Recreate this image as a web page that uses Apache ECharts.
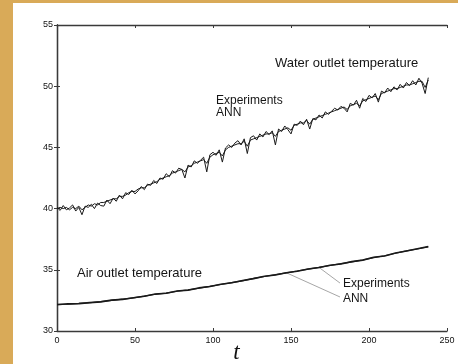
<!DOCTYPE html>
<html>
<head>
<meta charset="utf-8">
<script src="https://cdn.jsdelivr.net/npm/echarts@6/dist/echarts.min.js"></script>
<style>
  html, body { margin: 0; padding: 0; background: #ffffff; }
  #chart { width: 473px; height: 364px; }
</style>
</head>
<body>
<div id="chart"></div>
<script>
// Time axis (t) sampling for the two curve families
const waterT = [];
for (let i = 0; i < 120; i++) waterT.push(i * 2);
const airT = [];
for (let i = 0; i < 35; i++) airT.push(i * 7);

// Water outlet temperature — measured
const waterExp = [
  40.1, 39.85, 40.25, 39.9, 40.05, 40.3, 39.8, 40.1, 39.5, 40.2,
  40.1, 40.35, 40.0, 40.45, 40.25, 40.2, 40.7, 40.4, 40.85, 40.6,
  41.1, 40.8, 41.3, 41.15, 41.5, 41.2, 41.45, 41.8, 41.55, 42.0,
  41.9, 42.3, 42.05, 42.5, 42.4, 42.85, 42.6, 43.1, 42.9, 43.3,
  43.2, 42.5, 43.55, 43.4, 43.9, 43.7, 43.95, 44.2, 43.0, 44.4,
  44.6, 44.35, 44.8, 43.8, 44.95, 45.2, 45.0, 45.35, 45.55, 45.2,
  45.7, 44.5, 45.8, 45.95, 45.6, 46.1, 45.85, 46.3, 46.05, 46.35,
  45.2, 46.5, 46.3, 46.75, 46.45, 46.1, 46.9, 46.8, 47.15, 46.85,
  47.3, 46.5, 47.35, 47.25, 47.65, 47.4, 47.9, 47.7, 47.95, 48.2,
  48.05, 48.35, 48.2, 47.9, 48.6, 48.45, 48.85, 48.2, 49.0, 48.75,
  49.25, 49.05, 49.4, 48.7, 49.6, 49.45, 49.85, 49.55, 49.95, 49.7,
  50.15, 49.85, 50.3, 50.05, 50.45, 50.1, 50.65, 50.25, 49.4, 50.7
];
// Water outlet temperature — network prediction
const waterAnn = [
  40.0, 40.1, 40.0, 40.1, 39.9, 40.1, 40.0, 40.2, 39.9, 40.1,
  40.3, 40.2, 40.4, 40.3, 40.5, 40.5, 40.6, 40.7, 40.8, 40.8,
  41.0, 41.0, 41.1, 41.3, 41.4, 41.4, 41.6, 41.7, 41.7, 41.9,
  42.0, 42.1, 42.2, 42.4, 42.5, 42.6, 42.7, 42.9, 43.0, 43.1,
  43.2, 43.0, 43.4, 43.5, 43.7, 43.8, 43.9, 44.0, 43.7, 44.2,
  44.4, 44.5, 44.6, 44.3, 44.8, 45.0, 45.1, 45.2, 45.3, 45.3,
  45.5, 45.1, 45.6, 45.7, 45.8, 45.9, 46.0, 46.1, 46.1, 46.2,
  45.9, 46.3, 46.4, 46.5, 46.6, 46.4, 46.8, 46.9, 47.0, 47.0,
  47.2, 46.9, 47.3, 47.4, 47.5, 47.6, 47.7, 47.8, 47.9, 48.0,
  48.1, 48.2, 48.3, 48.1, 48.4, 48.5, 48.6, 48.4, 48.8, 48.9,
  49.0, 49.1, 49.2, 48.9, 49.4, 49.5, 49.6, 49.7, 49.8, 49.8,
  49.9, 50.0, 50.1, 50.1, 50.2, 50.3, 50.4, 50.4, 49.9, 50.5
];
// Air outlet temperature — measured
const airExp = [
  32.15, 32.22, 32.24, 32.32, 32.38, 32.52, 32.58, 32.72, 32.84, 33.02,
  33.08, 33.27, 33.34, 33.52, 33.64, 33.82, 33.94, 34.12, 34.28, 34.47,
  34.58, 34.76, 34.88, 35.07, 35.19, 35.37, 35.48, 35.67, 35.79, 36.02,
  36.13, 36.37, 36.53, 36.72, 36.90
];
// Air outlet temperature — network prediction
const airAnn = [
  32.17, 32.20, 32.25, 32.31, 32.40, 32.50, 32.60, 32.70, 32.85, 33.00,
  33.10, 33.25, 33.35, 33.50, 33.65, 33.80, 33.95, 34.10, 34.30, 34.45,
  34.60, 34.75, 34.90, 35.05, 35.20, 35.35, 35.50, 35.65, 35.80, 36.00,
  36.15, 36.35, 36.55, 36.70, 36.88
];

const xTicks = { min: 0, max: 250, step: 50 };
const yTicks = { min: 30, max: 55, step: 5 };

const pairs = (xs, ys) => xs.map((x, i) => [x, ys[i]]);

const font = '"Liberation Sans", Arial, Helvetica, sans-serif';
const axisColor = '#3a3a3a';

const chart = echarts.init(document.getElementById('chart'), null, { renderer: 'canvas' });

const frameAxis = (extra) => Object.assign({
  type: 'value',
  min: xTicks.min, max: xTicks.max, interval: xTicks.step,
  axisLine: { show: true, lineStyle: { color: axisColor, width: 1.3 } },
  axisTick: { show: true, inside: true, length: 3, lineStyle: { color: axisColor, width: 1 } },
  splitLine: { show: false },
  axisLabel: { show: false }
}, extra);

chart.setOption({
  animation: false,
  backgroundColor: '#ffffff',
  grid: { left: 57, right: 26, top: 25, bottom: 33 },
  xAxis: [
    frameAxis({
      position: 'bottom',
      axisLabel: { show: true, color: '#111', fontSize: 9, fontFamily: font, margin: 5 }
    }),
    frameAxis({ position: 'top' })
  ],
  yAxis: [
    frameAxis({
      position: 'left',
      min: yTicks.min, max: yTicks.max, interval: yTicks.step,
      axisLabel: { show: true, color: '#111', fontSize: 9, fontFamily: font, margin: 4 }
    }),
    frameAxis({
      position: 'right',
      min: yTicks.min, max: yTicks.max, interval: yTicks.step
    })
  ],
  series: [
    { name: 'Water Experiments', type: 'line', data: pairs(waterT, waterExp), showSymbol: false,
      lineStyle: { color: '#1a1a1a', width: 1 } },
    { name: 'Water ANN', type: 'line', data: pairs(waterT, waterAnn), showSymbol: false,
      lineStyle: { color: '#1a1a1a', width: 1 } },
    { name: 'Air Experiments', type: 'line', data: pairs(airT, airExp), showSymbol: false,
      lineStyle: { color: '#1a1a1a', width: 1.6 } },
    { name: 'Air ANN', type: 'line', data: pairs(airT, airAnn), showSymbol: false,
      lineStyle: { color: '#1a1a1a', width: 1.2 } }
  ]
});

// Annotations placed in data coordinates
const px = (t, v) => chart.convertToPixel({ gridIndex: 0 }, [t, v]);

const textAt = (str, t, v, size) => {
  const p = px(t, v);
  return {
    type: 'text', x: p[0], y: p[1],
    style: { text: str, fill: '#151515', font: size + 'px ' + font, textVerticalAlign: 'middle' }
  };
};

const leader = (fromT, fromV, toIdx) => {
  const a = px(fromT, fromV);
  const b = px(airT[toIdx], airExp[toIdx]);
  return {
    type: 'line',
    shape: { x1: a[0], y1: a[1], x2: b[0], y2: b[1] },
    style: { stroke: '#8f8f8f', lineWidth: 0.8 }
  };
};

const tPos = px(115, 30);

chart.setOption({
  graphic: [
    // page frame strips
    { type: 'rect', shape: { x: 0, y: 0, width: 13, height: 364 }, style: { fill: '#d9aa58' } },
    { type: 'rect', shape: { x: 13, y: 0, width: 445, height: 3 }, style: { fill: '#d9aa58' } },

    textAt('Water outlet temperature', 139.7, 51.9, 13),
    textAt('Experiments', 101.9, 48.8, 12),
    textAt('ANN', 101.9, 47.8, 12),
    textAt('Air outlet temperature', 12.8, 34.74, 13),
    textAt('Experiments', 183.3, 33.84, 12),
    textAt('ANN', 183.3, 32.61, 12),

    leader(181.4, 33.92, 24),
    leader(181.4, 32.78, 21),

    {
      type: 'text', x: tPos[0], y: tPos[1] + 22,
      style: {
        text: 't', fill: '#111',
        font: 'italic 23px "Liberation Serif", "Times New Roman", serif',
        textAlign: 'center', textVerticalAlign: 'middle'
      }
    }
  ]
});
</script>
</body>
</html>
